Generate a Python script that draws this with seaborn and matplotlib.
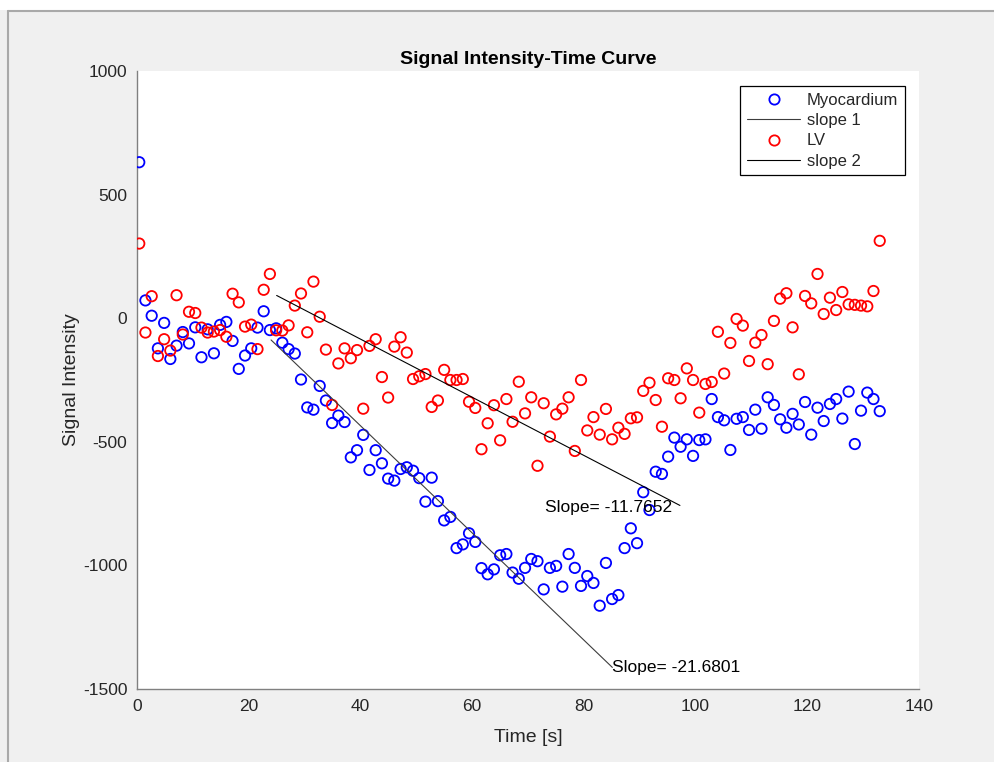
import matplotlib
matplotlib.use("Agg")
import matplotlib.pyplot as plt
import seaborn as sns
import pandas as pd
from matplotlib.lines import Line2D
from matplotlib.patches import Rectangle

# Acquisition times (s)
time_s = [
    0.40, 1.51, 2.63, 3.74, 4.86, 5.97, 7.08, 8.20, 9.31, 10.43,
    11.54, 12.65, 13.77, 14.88, 16.00, 17.11, 18.22, 19.34, 20.45, 21.57,
    22.68, 23.79, 24.91, 26.02, 27.14, 28.25, 29.36, 30.48, 31.59, 32.71,
    33.82, 34.93, 36.05, 37.16, 38.28, 39.39, 40.50, 41.62, 42.73, 43.85,
    44.96, 46.07, 47.19, 48.30, 49.42, 50.53, 51.64, 52.76, 53.87, 54.99,
    56.10, 57.21, 58.33, 59.44, 60.56, 61.67, 62.78, 63.90, 65.01, 66.13,
    67.24, 68.35, 69.47, 70.58, 71.70, 72.81, 73.92, 75.04, 76.15, 77.27,
    78.38, 79.49, 80.61, 81.72, 82.84, 83.95, 85.06, 86.18, 87.29, 88.41,
    89.52, 90.63, 91.75, 92.86, 93.98, 95.09, 96.20, 97.32, 98.43, 99.55,
    100.66, 101.77, 102.89, 104.00, 105.12, 106.23, 107.34, 108.46, 109.57, 110.69,
    111.80, 112.91, 114.03, 115.14, 116.26, 117.37, 118.48, 119.60, 120.71, 121.83,
    122.94, 124.05, 125.17, 126.28, 127.40, 128.51, 129.62, 130.74, 131.85, 132.97,
]

# Myocardium signal intensity
myocardium = [
    631, 72, 10, -122, -19, -165, -111, -56, -102, -37,
    -158, -45, -142, -27, -15, -92, -205, -151, -122, -38,
    28, -48, -41, -99, -125, -143, -248, -361, -370, -274,
    -333, -424, -394, -420, -563, -534, -472, -614, -534, -587,
    -649, -657, -610, -603, -617, -647, -742, -645, -740, -818,
    -804, -930, -915, -870, -905, -1011, -1036, -1016, -959, -954,
    -1029, -1054, -1010, -974, -983, -1097, -1010, -1002, -1086, -954,
    -1010, -1083, -1043, -1071, -1163, -990, -1136, -1120, -930, -850,
    -910, -704, -776, -621, -630, -560, -483, -520, -490, -557,
    -493, -490, -327, -400, -413, -533, -407, -400, -452, -370,
    -447, -320, -351, -409, -443, -387, -430, -339, -471, -362,
    -416, -347, -327, -406, -297, -509, -374, -301, -327, -376,
]

# Left-ventricle blood pool signal intensity
lv = [
    302, -58, 89, -153, -85, -131, 93, -66, 26, 21,
    -38, -58, -54, -48, -75, 99, 64, -34, -26, -125,
    115, 179, -49, -50, -29, 51, 100, -57, 148, 6,
    -127, -351, -183, -122, -162, -129, -366, -112, -85, -238,
    -321, -115, -77, -139, -246, -235, -226, -359, -333, -209,
    -250, -250, -246, -338, -363, -530, -425, -352, -494, -327,
    -419, -257, -385, -320, -597, -344, -479, -389, -366, -320,
    -537, -250, -454, -400, -471, -367, -490, -443, -468, -405,
    -401, -294, -261, -331, -439, -243, -250, -324, -203, -250,
    -382, -266, -258, -55, -224, -100, -3, -30, -173, -99,
    -68, -186, -11, 79, 101, -37, -227, 90, 60, 179,
    17, 83, 33, 106, 56, 54, 51, 48, 110, 313,
]

# Fitted down-slopes: start point, end time and slope
slope1_value = -21.6801
slope1_start = (24.0, -88.0)
slope1_end_t = 85.1
slope2_value = -11.7652
slope2_start = (25.0, 92.0)
slope2_end_t = 97.2
slope2_label_pos = (73.1, -764.0)

sns.set_style("white")
plt.rcParams["font.family"] = ["Liberation Sans", "DejaVu Sans"]
plt.rcParams["axes.unicode_minus"] = False

W, H = 995, 762
fig = plt.figure(figsize=(W / 100, H / 100), dpi=100)
fig.patch.set_facecolor("#f0f0f0")

# window chrome: white strip on top and thin border lines
fig.add_artist(Rectangle((0, 1 - 10 / H), 1, 10 / H, transform=fig.transFigure,
                         facecolor="white", edgecolor="none", zorder=0))
fig.add_artist(Line2D([8 / W, 1], [1 - 11 / H, 1 - 11 / H], transform=fig.transFigure,
                      color="#a9a9a9", lw=1.5))
fig.add_artist(Line2D([8 / W, 8 / W], [0, 1 - 11 / H], transform=fig.transFigure,
                      color="#a9a9a9", lw=1.5))

ax = fig.add_axes([137 / W, 1 - 689 / H, (919 - 137) / W, (689 - 71) / H])
ax.set_facecolor("white")

df_myo = pd.DataFrame({"t": time_s, "v": myocardium})
df_lv = pd.DataFrame({"t": time_s, "v": lv})

marker_kw = dict(marker="o", s=56, facecolors="none", linewidth=1.3, legend=False)
sns.scatterplot(data=df_myo, x="t", y="v", edgecolor="#0000ff", ax=ax, zorder=3, **marker_kw)

def slope_line(start, end_t, slope):
    t0, v0 = start
    return pd.DataFrame({"t": [t0, end_t], "v": [v0, v0 + slope * (end_t - t0)]})

line1 = slope_line(slope1_start, slope1_end_t, slope1_value)
sns.lineplot(data=line1, x="t", y="v", color="#3c3c3c", linewidth=0.8, ax=ax, zorder=4)

sns.scatterplot(data=df_lv, x="t", y="v", edgecolor="#ff0000", ax=ax, zorder=3, **marker_kw)

line2 = slope_line(slope2_start, slope2_end_t, slope2_value)
sns.lineplot(data=line2, x="t", y="v", color="black", linewidth=0.8, ax=ax, zorder=4)

ax.text(line1["t"].iloc[-1], line1["v"].iloc[-1], f"Slope= {slope1_value}",
        fontsize=12.5, va="center", ha="left", color="black", zorder=5)
ax.text(slope2_label_pos[0], slope2_label_pos[1], f"Slope= {slope2_value}",
        fontsize=12.5, va="center", ha="left", color="black", zorder=5)

ax.set_xlim(0, 140)
ax.set_ylim(-1500, 1000)
ax.set_xticks(range(0, 141, 20))
ax.set_yticks(range(-1500, 1001, 500))

for side in ("top", "right"):
    ax.spines[side].set_visible(False)
for side in ("left", "bottom"):
    ax.spines[side].set_color("#808080")
    ax.spines[side].set_linewidth(1.0)
ax.tick_params(direction="in", length=5, width=0.9, color="#808080",
               labelcolor="#262626", labelsize=12.5, pad=7)

ax.set_xlabel("Time [s]", fontsize=14, color="#262626", labelpad=11)
ax.set_ylabel("Signal Intensity", fontsize=14, color="#262626", labelpad=2)
ax.set_title("Signal Intensity-Time Curve", fontsize=14, fontweight="bold",
             color="black", pad=5)

handles = [
    Line2D([], [], ls="none", marker="o", ms=7.4, mfc="none", mec="#0000ff", mew=1.3),
    Line2D([], [], color="#3c3c3c", lw=0.8),
    Line2D([], [], ls="none", marker="o", ms=7.4, mfc="none", mec="#ff0000", mew=1.3),
    Line2D([], [], color="black", lw=0.8),
]
labels = ["Myocardium", "slope 1", "LV", "slope 2"]
leg = ax.legend(handles, labels, loc="upper right", bbox_to_anchor=(0.982, 0.9757),
                borderaxespad=0, frameon=True, fancybox=False, framealpha=1,
                edgecolor="black", fontsize=12, handlelength=3.2, handletextpad=0.4,
                labelspacing=0.32, borderpad=0.4, numpoints=1)
leg.get_frame().set_linewidth(0.9)

fig.savefig("out.png", dpi=100, facecolor=fig.get_facecolor())
